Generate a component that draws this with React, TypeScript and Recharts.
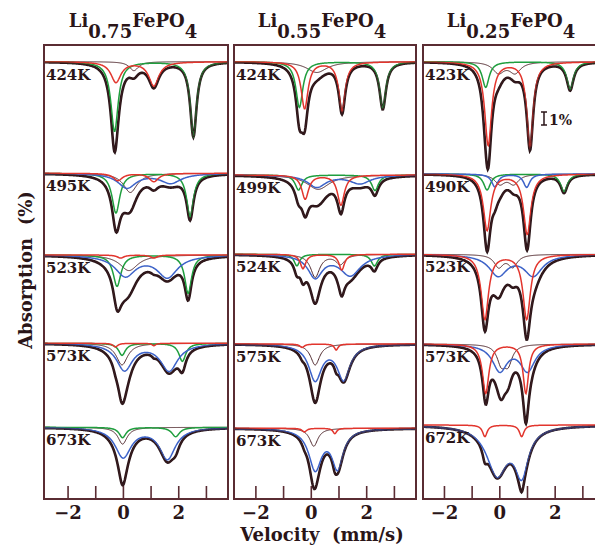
import { LineChart, Line, XAxis, YAxis } from "recharts";

// Mössbauer spectra of LixFePO4 at several temperatures.
// Each sub-spectrum is given as Lorentzian lines: [centre (mm/s), depth (%), half width (mm/s)]
type Peak = [number, number, number];
type Spectrum = { temp: string; green?: Peak[]; red?: Peak[]; blue?: Peak[]; dark?: Peak[] };

const velocityTicks = [-2, -1, 0, 1, 2, 3];
const labelledTicks = [-2, 0, 2];

// ---- Li0.75FePO4
const a424: Spectrum = {
  temp: "424K",
  green: [[-0.32, 5.8, 0.16], [2.53, 6.2, 0.14]],
  red: [[-0.27, 1.7, 0.22], [1.1, 2.0, 0.22]],
  dark: [[0.38, 0.75, 0.2]],
};
const a495: Spectrum = {
  temp: "495K",
  green: [[-0.27, 3.3, 0.17], [2.41, 3.6, 0.15]],
  red: [[-0.2, 0.6, 0.2], [1.1, 0.7, 0.2]],
  blue: [[0.13, 1.2, 0.4], [1.71, 0.8, 0.45]],
  dark: [[0.25, 1.6, 0.3]],
};
const a523: Spectrum = {
  temp: "523K",
  green: [[-0.23, 2.6, 0.17], [2.34, 3.2, 0.15]],
  red: [[-0.1, 0.25, 0.15], [1.1, 0.25, 0.15]],
  blue: [[0.07, 1.7, 0.45], [1.59, 1.8, 0.45]],
  dark: [[0.2, 1.3, 0.4]],
};
const a573: Spectrum = {
  temp: "573K",
  green: [[-0.05, 1.0, 0.15], [2.13, 1.5, 0.15]],
  red: [[-0.29, 0.3, 0.1], [1.1, 0.2, 0.08]],
  blue: [[0.04, 2.2, 0.35], [1.65, 2.25, 0.38]],
  dark: [[-0.05, 1.8, 0.25]],
};
const a673: Spectrum = {
  temp: "673K",
  green: [[-0.03, 0.86, 0.15], [1.89, 0.78, 0.17]],
  blue: [[-0.01, 2.45, 0.35], [1.59, 2.6, 0.35]],
  dark: [[-0.03, 1.4, 0.2]],
};

// ---- Li0.55FePO4
const b424: Spectrum = {
  temp: "424K",
  green: [[-0.43, 3.8, 0.15], [2.58, 3.9, 0.14]],
  red: [[-0.24, 3.9, 0.15], [1.11, 4.1, 0.14]],
  dark: [[0.2, 0.9, 0.45]],
};
const b499: Spectrum = {
  temp: "499K",
  green: [[-0.46, 1.25, 0.15], [2.3, 1.3, 0.15]],
  red: [[-0.22, 2.0, 0.15], [1.07, 2.5, 0.15]],
  blue: [[0.2, 1.0, 0.4], [1.76, 0.7, 0.45]],
  dark: [[0.25, 1.2, 0.5]],
};
const b524: Spectrum = {
  temp: "524K",
  green: [[-0.52, 0.97, 0.12], [2.28, 0.97, 0.14]],
  red: [[-0.3, 1.2, 0.12], [1.1, 1.3, 0.12]],
  blue: [[0.14, 1.86, 0.32], [1.41, 1.72, 0.45]],
  dark: [[0.14, 1.9, 0.2], [1.05, 0.8, 0.2]],
};
const b575: Spectrum = {
  temp: "575K",
  red: [[-0.33, 0.28, 0.1], [0.9, 0.5, 0.08]],
  blue: [[0.14, 2.94, 0.28], [1.17, 2.9, 0.28]],
  dark: [[0.14, 1.75, 0.2]],
};
const b673: Spectrum = {
  temp: "673K",
  red: [[-0.25, 0.3, 0.1], [0.85, 0.45, 0.08]],
  blue: [[0.14, 3.33, 0.28], [0.95, 3.2, 0.25]],
  dark: [[0.09, 1.5, 0.18]],
};

// ---- Li0.25FePO4
const c423: Spectrum = {
  temp: "423K",
  green: [[-0.51, 2.14, 0.15], [2.54, 2.3, 0.15]],
  red: [[-0.42, 6.94, 0.15], [1.09, 7.1, 0.14]],
  dark: [[-0.05, 0.9, 0.25], [0.55, 0.9, 0.25]],
};
const c490: Spectrum = {
  temp: "490K",
  green: [[-0.46, 1.33, 0.15], [2.32, 1.47, 0.15]],
  red: [[-0.46, 4.67, 0.16], [0.99, 5.0, 0.16]],
  blue: [[-0.18, 1.06, 0.14], [0.97, 1.1, 0.14]],
  dark: [[0.0, 0.8, 0.22], [0.5, 0.8, 0.22]],
};
const c523: Spectrum = {
  temp: "523K",
  red: [[-0.54, 5.4, 0.16], [0.97, 5.4, 0.16]],
  blue: [[-0.06, 1.72, 0.4], [1.21, 1.72, 0.4]],
  dark: [[-0.04, 1.03, 0.2], [0.47, 1.0, 0.2]],
};
const c573: Spectrum = {
  temp: "573K",
  red: [[-0.51, 4.1, 0.14], [0.94, 4.1, 0.12]],
  blue: [[0.0, 2.17, 0.32], [1.0, 2.17, 0.32]],
  dark: [[0.05, 1.5, 0.18], [0.3, 1.5, 0.18]],
};
const c672: Spectrum = {
  temp: "672K",
  red: [[-0.54, 0.97, 0.1], [0.79, 0.97, 0.1]],
  blue: [[-0.1, 4.0, 0.45], [0.79, 3.8, 0.3]],
};

const spectra075 = [a424, a495, a523, a573, a673];
const spectra055 = [b424, b499, b524, b575, b673];
const spectra025 = [c423, c490, c523, c573, c672];

// stacking offset of each spectrum's baseline (% units from the top of the box)
const offsets075 = [1.39, 10.69, 17.5, 24.86, 31.86];
const offsets055 = [1.39, 10.83, 17.44, 24.92, 31.94];
const offsets025 = [1.39, 10.75, 17.44, 24.92, 31.67];

const PX_PER_PCT = 12;
const PLOT_TOP = 45;
const PLOT_H = 454;
const Y_MIN = -PLOT_H / PX_PER_PCT;

const INK = "#2a1518";
const FRAME = "#5a2c33";
const COLORS: Record<string, string> = {
  green: "#1f9e3e",
  red: "#e2352d",
  blue: "#3c62c8",
  dark: "#4e262b",
};
const FONT = "'DejaVu Serif', serif";
const comps = ["dark", "green", "blue", "red"] as const;

function lorentz(peaks: Peak[] | undefined, v: number) {
  if (!peaks) return 0;
  let s = 0;
  for (const [c, d, w] of peaks) s += d / (1 + ((v - c) / w) ** 2);
  return s;
}

function buildRows(spectra: Spectrum[], offsets: number[], domain: [number, number]) {
  const rows: Record<string, number>[] = [];
  const n = Math.round((domain[1] - domain[0]) / 0.02);
  for (let k = 0; k <= n; k++) {
    const v = domain[0] + k * 0.02;
    const row: Record<string, number> = { v };
    spectra.forEach((sp, i) => {
      let tot = 0;
      for (const c of comps) {
        const peaks = sp[c];
        if (!peaks) continue;
        const a = lorentz(peaks, v);
        tot += a;
        row[`${i}_${c}`] = -(offsets[i] + a);
      }
      row[`${i}_tot`] = -(offsets[i] + tot);
    });
    rows.push(row);
  }
  return rows;
}

function BottomTick(props: any) {
  const { x, y, payload } = props;
  const v = payload.value as number;
  return (
    <g>
      <line x1={x} x2={x} y1={y} y2={y - 13} stroke={FRAME} strokeWidth={1.6} />
      {labelledTicks.includes(v) && (
        <text x={x} y={y + 20} textAnchor="middle" fontFamily={FONT} fontWeight="bold" fontSize={18} fill={INK}>
          {v < 0 ? `\u2212${-v}` : v}
        </text>
      )}
    </g>
  );
}

function TopTick(props: any) {
  const { x, y } = props;
  return <line x1={x} x2={x} y1={y} y2={y + 12} stroke={FRAME} strokeWidth={1.6} />;
}

type PanelDef = {
  sub: string;
  spectra: Spectrum[];
  offsets: number[];
  domain: [number, number];
  left: number;
  width: number;
};

const panels: PanelDef[] = [
  { sub: "0.75", spectra: spectra075, offsets: offsets075, domain: [-2.87, 3.78], left: 44, width: 184 },
  { sub: "0.55", spectra: spectra055, offsets: offsets055, domain: [-2.79, 3.78], left: 234, width: 182 },
  { sub: "0.25", spectra: spectra025, offsets: offsets025, domain: [-2.775, 3.8], left: 423, width: 182 },
];

function Panel({ p }: { p: PanelDef }) {
  const rows = buildRows(p.spectra, p.offsets, p.domain);
  return (
    <>
      <div style={{ position: "absolute", left: p.left, top: PLOT_TOP }}>
        <LineChart width={p.width} height={PLOT_H + 40} data={rows} margin={{ top: 0, right: 0, bottom: 0, left: 0 }}>
          <XAxis
            xAxisId="b"
            dataKey="v"
            type="number"
            domain={p.domain}
            allowDataOverflow
            ticks={velocityTicks}
            interval={0}
            orientation="bottom"
            height={40}
            axisLine={false}
            tickLine={false}
            tickSize={0}
            tickMargin={0}
            tick={<BottomTick />}
          />
          <XAxis
            xAxisId="t"
            dataKey="v"
            type="number"
            domain={p.domain}
            allowDataOverflow
            ticks={velocityTicks}
            interval={0}
            orientation="top"
            height={0}
            axisLine={false}
            tickLine={false}
            tickSize={0}
            tickMargin={0}
            tick={<TopTick />}
          />
          <YAxis hide type="number" domain={[Y_MIN, 0]} allowDataOverflow />
          {/* measured data (thick) */}
          {p.spectra.map((_, i) => (
            <Line
              key={`dat${i}`}
              xAxisId="b"
              dataKey={`${i}_tot`}
              type="linear"
              stroke={INK}
              strokeWidth={2.6}
              dot={false}
              isAnimationActive={false}
            />
          ))}
          {/* sub-spectra */}
          {p.spectra.flatMap((sp, i) =>
            comps
              .filter((c) => sp[c])
              .map((c) => (
                <Line
                  key={`${i}${c}`}
                  xAxisId="b"
                  dataKey={`${i}_${c}`}
                  type="linear"
                  stroke={COLORS[c]}
                  strokeWidth={c === "dark" ? 1 : 1.5}
                  dot={false}
                  isAnimationActive={false}
                />
              )),
          )}
          {/* total fit (thin) */}
          {p.spectra.map((_, i) => (
            <Line
              key={`fit${i}`}
              xAxisId="b"
              dataKey={`${i}_tot`}
              type="linear"
              stroke="#3a1c20"
              strokeWidth={1}
              dot={false}
              isAnimationActive={false}
            />
          ))}
        </LineChart>
      </div>
      <div
        style={{
          position: "absolute",
          left: p.left - 1,
          top: PLOT_TOP - 1,
          width: p.width + 2,
          height: PLOT_H + 2,
          border: `2px solid ${FRAME}`,
          boxSizing: "border-box",
          pointerEvents: "none",
        }}
      />
      {p.spectra.map((sp, i) => (
        <div
          key={sp.temp + i}
          style={{
            position: "absolute",
            left: p.left + 2,
            top: PLOT_TOP + p.offsets[i] * PX_PER_PCT + 5,
            font: `bold 15px ${FONT}`,
            color: INK,
            lineHeight: "16px",
          }}
        >
          {sp.temp}
        </div>
      ))}
      <div
        style={{
          position: "absolute",
          left: p.left - 3,
          width: p.width,
          top: 10,
          textAlign: "center",
          font: `bold 18px ${FONT}`,
          color: INK,
          lineHeight: "22px",
          whiteSpace: "nowrap",
        }}
      >
        Li<span style={{ position: "relative", top: 11 }}>{p.sub}</span>FePO
        <span style={{ position: "relative", top: 11 }}>4</span>
      </div>
    </>
  );
}

export default function App() {
  return (
    <div
      style={{
        position: "absolute",
        left: 0,
        top: 0,
        width: 595,
        height: 548,
        overflow: "hidden",
        background: "#fff",
      }}
    >
      {panels.map((p) => (
        <Panel key={p.sub} p={p} />
      ))}
      <svg style={{ position: "absolute", left: 538, top: 108 }} width={40} height={22}>
        <line x1={6} x2={6} y1={4} y2={17} stroke={INK} strokeWidth={1.5} />
        <line x1={3} x2={9} y1={4} y2={4} stroke={INK} strokeWidth={1.5} />
        <line x1={3} x2={9} y1={17} y2={17} stroke={INK} strokeWidth={1.5} />
        <text x={11} y={17} fontFamily={FONT} fontWeight="bold" fontSize={14} fill={INK}>
          1%
        </text>
      </svg>
      <div
        style={{
          position: "absolute",
          left: 25,
          top: 270,
          transform: "translate(-50%, -50%) rotate(-90deg)",
          font: `bold 18px ${FONT}`,
          color: INK,
          whiteSpace: "pre",
        }}
      >
        {"Absorption  (%)"}
      </div>
      <div
        style={{
          position: "absolute",
          left: 322,
          top: 524,
          transform: "translateX(-50%)",
          font: `bold 18px ${FONT}`,
          color: INK,
          whiteSpace: "pre",
        }}
      >
        {"Velocity  (mm/s)"}
      </div>
    </div>
  );
}
